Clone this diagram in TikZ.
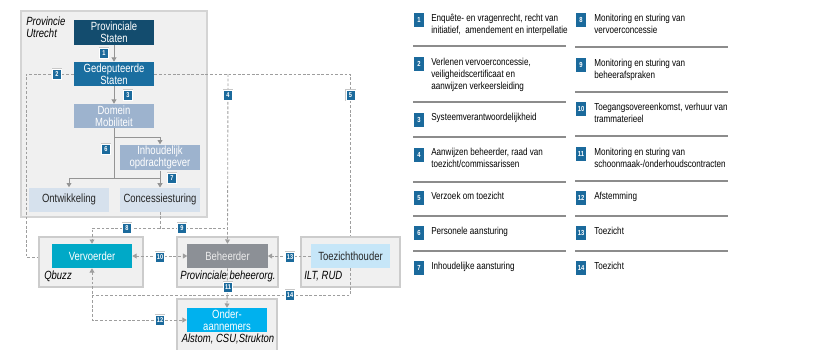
\documentclass[tikz,border=0pt]{standalone}
\usepackage{fontspec}
\setmainfont{Liberation Sans}[FakeStretch=0.8]
\usepackage{tikz}
\usetikzlibrary{arrows.meta,positioning}
\definecolor{bleufonce}{HTML}{134C6E}
\definecolor{bleu}{HTML}{1A6EA0}
\definecolor{bleugris}{HTML}{9DB3CE}
\definecolor{bleupale}{HTML}{D6E1ED}
\definecolor{turquoise}{HTML}{00A9C7}
\definecolor{grisbeh}{HTML}{8C9096}
\definecolor{ciel}{HTML}{C6E6F8}
\definecolor{cyanvif}{HTML}{00B1EE}
\definecolor{fond}{HTML}{F0F0F0}
\definecolor{badgebleu}{HTML}{1B6A9C}

\begin{document}
\begin{tikzpicture}[x=0.025cm, y=-0.025cm,
		boite/.style={minimum width=2cm, minimum height=0.6cm, inner sep=1pt, align=center, font=\fontsize{8.45}{8.5}\selectfont},
		cadre/.style={fill=fond, draw=black!20, line width=0.8pt, minimum height=1.25cm, inner sep=0pt},
		badge/.style={fill=badgebleu, text=white, draw=white, line width=0.5pt, preaction={draw=black!22, line width=1.2pt},
			minimum width=0.23cm, minimum height=0.25cm, inner sep=0pt, font=\fontsize{5}{5}\selectfont\bfseries},
		numero/.style={badge, minimum width=0.28cm, minimum height=0.36cm, font=\fontsize{5.2}{5.2}\selectfont\bfseries},
		legende/.style={anchor=north west, align=left, inner sep=0pt, font=\fontsize{7.2}{8.5}\selectfont},
		etiquette/.style={inner sep=0pt, font=\fontsize{8.45}{8.5}\selectfont\itshape},
		fleche/.style={draw=black!42, line width=0.6pt, -{Triangle[length=3pt,width=3.4pt]}},
		tirets/.style={draw=black!38, line width=0.6pt, dash pattern=on 2pt off 1.3pt},
		>={Triangle[length=3pt,width=3.4pt]}
		]
		\useasboundingbox (0,0) rectangle (823,349);
		
		% La province
		\node[fill=fond, draw=black!17, line width=0.8pt, minimum width=4.65cm, minimum height=5.15cm, inner sep=0pt] (prov) at (114,114) {};
		\node[etiquette, anchor=north west, align=left] (provnaam) at (26,17) {Provincie\\Utrecht};
		
		% Les boites
		\node[boite, fill=bleufonce, text=white] (ps) at (114,32.5) {Provinciale\\Staten};
		\node[boite, fill=bleu, text=white] (gs) at (114,74) {Gedeputeerde\\Staten};
		\node[boite, fill=bleugris, text=white] (dm) at (114,116) {Domein\\Mobiliteit};
		\node[boite, fill=bleugris, text=white] (io) at (160,157.5) {Inhoudelijk\\opdrachtgever};
		\node[boite, fill=bleupale, text=black!85] (on) at (69,199.5) {Ontwikkeling};
		\node[boite, fill=bleupale, text=black!85] (co) at (160,199.5) {Concessiesturing};
		
		% Les partenaires
		\node[cadre, minimum width=2.6cm] (vo) at (91,262) {};
		\node[cadre, minimum width=2.525cm] (bo) at (227.5,262) {};
		\node[cadre, minimum width=2.475cm] (toez) at (350.5,262) {};
		\node[cadre, minimum width=2.5cm, minimum height=1.3cm] (oo) at (227,325) {};
		\node[boite, fill=turquoise, text=white] (verv) at (92,256) {Vervoerder};
		\node[boite, fill=grisbeh, text=black!8] (beh) at (227.5,256) {Beheerder};
		\node[boite, fill=ciel, text=black!85, minimum width=1.975cm] (tz) at (350.5,256) {Toezichthouder};
		\node[boite, fill=cyanvif, text=white] (ond) at (227,320) {Onder-\\aannemers};
		\node[etiquette, anchor=west] (qbuzz) at (44,276) {Qbuzz};
		\node[etiquette] (beheerorg) at (228,276) {Provinciale beheerorg.};
		\node[etiquette, anchor=west] (ilt) at (304,276) {ILT, RUD};
		\node[etiquette] (alstom) at (228,339) {Alstom, CSU,Strukton};
		
		% Les points de passage
		\coordinate (k6) at (114,178);
		\coordinate (k6b) at (114,137);
		\coordinate (c2) at (26,74);
		\coordinate (c2b) at (26,257);
		\coordinate (c4) at (228,74);
		\coordinate (c5) at (350.5,74);
		\coordinate (c8) at (160,228);
		\coordinate (c9) at (228,228);
		\coordinate (c12) at (92,320);
		\coordinate (c14) at (350.5,295);
		\coordinate (c14b) at (92,295);
		
		% Les aretes pleines
		\draw[fleche] (ps) -- (gs);
		\draw[fleche] (gs) -- (dm);
		\draw[fleche] (dm.south) -- (k6) -| (on.north);
		\draw[fleche] (k6) -| (co.north);
		\draw[fleche] (k6b) -| (io.north);
		\draw[fleche] (io) -- (co);
		
		% Les aretes en tirets
		\draw[tirets] (gs.west) -- (c2) -- (c2b) -- (vo.west |- c2b);
		\draw[tirets] (gs.east) -- (c5) -- (toez.north);
		\draw[tirets, ->] (c4) -- (beh.north);
		\draw[tirets] (co.south) -- (c8) -- (c9);
		\draw[tirets, ->] (c8) -| (verv.north);
		\draw[tirets, <->] (verv.east) -- (beh.west);
		\draw[tirets, ->] (tz.west) -- (beh.east);
		\draw[tirets, ->] (beh.south) -- (ond.north);
		\draw[tirets, <->] (verv.south) -- (c12) -- (ond.west);
		\draw[tirets] (tz.south) -- (c14) -- (c14b);
		
		% Les numeros
		\node[badge] (b1) at (104,53) {1};
		\node[badge] (b2) at (57,74) {2};
		\node[badge] (b3) at (128,95) {3};
		\node[badge] (b4) at (228,95) {4};
		\node[badge] (b5) at (350.5,95) {5};
		\node[badge] (b6) at (106,149) {6};
		\node[badge] (b7) at (172,178) {7};
		\node[badge] (b8) at (127,228) {8};
		\node[badge] (b9) at (182,228) {9};
		\node[badge] (b10) at (160,257) {10};
		\node[badge] (b11) at (228,287) {11};
		\node[badge] (b12) at (160,320) {12};
		\node[badge] (b13) at (290,257) {13};
		\node[badge] (b14) at (290,295) {14};
		
		% La legende
		\node[numero] (l1) at (419,20) {1};
		\node[legende] (t1) at (431,14) {Enquête- en vragenrecht, recht van\\initiatief,\ \ amendement en interpellatie};
		\node[numero] (l2) at (419,64) {2};
		\node[legende] (t2) at (431,58) {Verlenen vervoerconcessie,\\veiligheidscertificaat en\\aanwijzen verkeersleiding};
		\node[numero] (l3) at (419,120) {3};
		\node[legende] (t3) at (431,113) {Systeemverantwoordelijkheid};
		\node[numero] (l4) at (419,155) {4};
		\node[legende] (t4) at (431,148) {Aanwijzen beheerder, raad van\\toezicht/commissarissen};
		\node[numero] (l5) at (419,198) {5};
		\node[legende] (t5) at (431,192) {Verzoek om toezicht};
		\node[numero] (l6) at (419,233) {6};
		\node[legende] (t6) at (431,227) {Personele aansturing};
		\node[numero] (l7) at (419,268) {7};
		\node[legende] (t7) at (431,262) {Inhoudelijke aansturing};
		
		\node[numero] (l8) at (581,20) {8};
		\node[legende] (t8) at (594,14) {Monitoring en sturing van\\vervoerconcessie};
		\node[numero] (l9) at (581,65) {9};
		\node[legende] (t9) at (594,59) {Monitoring en sturing van\\beheerafspraken};
		\node[numero] (l10) at (581,109) {10};
		\node[legende] (t10) at (594,103) {Toegangsovereenkomst, verhuur van\\trammaterieel};
		\node[numero] (l11) at (581,154) {11};
		\node[legende] (t11) at (594,148) {Monitoring en sturing van\\schoonmaak-/onderhoudscontracten};
		\node[numero] (l12) at (581,198) {12};
		\node[legende] (t12) at (594,192) {Afstemming};
		\node[numero] (l13) at (581,233) {13};
		\node[legende] (t13) at (594,227) {Toezicht};
		\node[numero] (l14) at (581,268) {14};
		\node[legende] (t14) at (594,262) {Toezicht};
		
		% Les separateurs
		\draw[black!45, line width=0.8pt] (413,46) -- (566,46) (413,102) -- (566,102) (413,137) -- (566,137)
			(413,182) -- (566,182) (413,216) -- (566,216) (413,251) -- (566,251);
		\draw[black!45, line width=0.8pt] (575,47) -- (728,47) (575,92) -- (728,92) (575,136) -- (728,136)
			(575,181) -- (728,181) (575,216) -- (728,216) (575,251) -- (728,251);
	\end{tikzpicture}
\end{document}
